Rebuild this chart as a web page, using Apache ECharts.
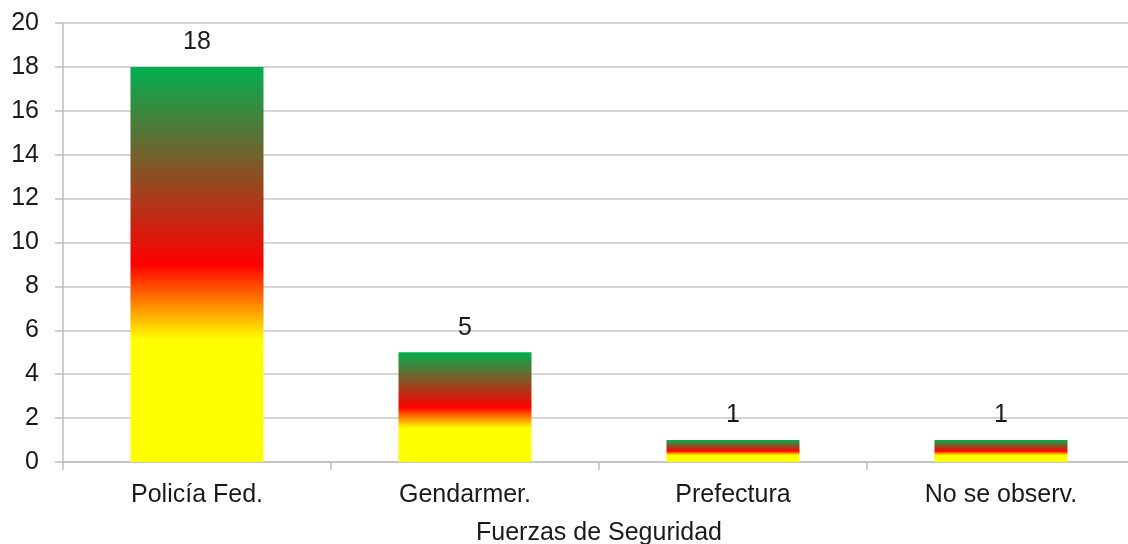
<!DOCTYPE html>
<html>
<head>
<meta charset="utf-8">
<style>
html,body{margin:0;padding:0;background:#fff;}
#chart{width:1128px;height:544px;}
</style>
<script src="https://cdn.jsdelivr.net/npm/echarts@6/dist/echarts.min.js"></script>
</head>
<body>
<div id="chart"></div>
<script>
const categories = ['Policía Fed.', 'Gendarmer.', 'Prefectura', 'No se observ.'];
const values = [18, 5, 1, 1];
const yTicks = { min: 0, max: 20, interval: 2 };
const axisTitle = 'Fuerzas de Seguridad';

const chart = echarts.init(document.getElementById('chart'), null, { renderer: 'canvas' });
const font = '"Liberation Sans", Arial, sans-serif';
const barGradient = new echarts.graphic.LinearGradient(0, 0, 0, 1, [
  { offset: 0, color: '#00b050' },
  { offset: 0.5, color: '#ff0000' },
  { offset: 0.69, color: '#ffff00' },
  { offset: 1, color: '#ffff00' }
]);

chart.setOption({
  animation: false,
  backgroundColor: '#ffffff',
  grid: { left: 63, width: 1072, top: 23, bottom: 82, containLabel: false, outerBoundsMode: 'none' },
  xAxis: {
    type: 'category',
    data: categories,
    name: axisTitle,
    nameLocation: 'middle',
    nameGap: 59,
    nameTextStyle: { fontSize: 25, color: '#1a1a1a', fontFamily: font },
    axisLine: { show: true, lineStyle: { color: '#bfbfbf', width: 1.5 } },
    axisTick: { show: true, alignWithLabel: false, length: 8, lineStyle: { color: '#bfbfbf', width: 1.5 } },
    axisLabel: { fontSize: 25, color: '#1a1a1a', fontFamily: font, margin: 21, interval: 0 },
    splitLine: { show: false }
  },
  yAxis: {
    type: 'value',
    min: yTicks.min,
    max: yTicks.max,
    interval: yTicks.interval,
    axisLine: { show: true, lineStyle: { color: '#bfbfbf', width: 1.5 } },
    axisTick: { show: true, length: 8, lineStyle: { color: '#bfbfbf', width: 1.5 } },
    axisLabel: { fontSize: 25, color: '#1a1a1a', fontFamily: font, margin: 24 },
    splitLine: { show: true, lineStyle: { color: '#c8c8c8', width: 1.5 } }
  },
  series: [{
    type: 'bar',
    data: values,
    barWidth: 133,
    itemStyle: { color: barGradient },
    label: {
      show: true,
      position: 'top',
      distance: 12,
      fontSize: 25,
      color: '#1a1a1a',
      fontFamily: font
    }
  }]
});
</script>
</body>
</html>
